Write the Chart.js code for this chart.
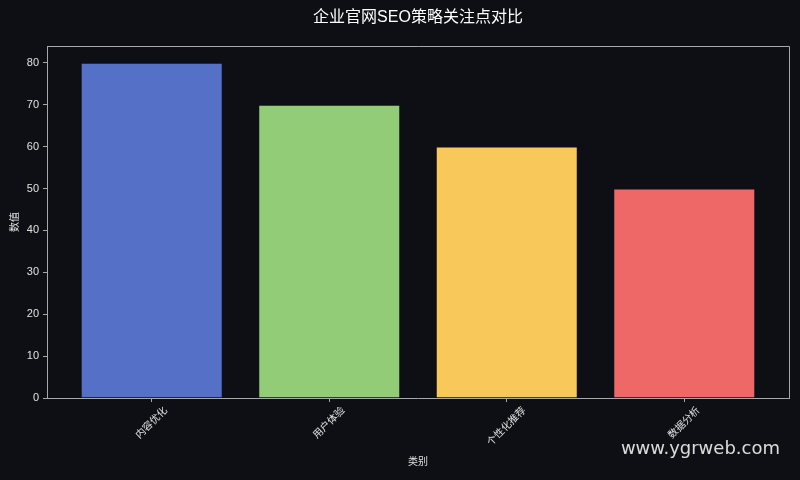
<!DOCTYPE html>
<html>
<head>
<meta charset="utf-8">
<script src="https://cdn.jsdelivr.net/npm/chart.js@4.4.0/dist/chart.umd.min.js"></script>
<style>
  html, body { margin: 0; padding: 0; background: #0d0f15; }
  #wrap { width: 800px; height: 480px; }
</style>
</head>
<body>
<div id="wrap"><canvas id="seoChart" width="800" height="480"></canvas></div>
<script>
var categories = ['内容优化', '用户体验', '个性化推荐', '数据分析'];
var seoValues = [80, 70, 60, 50];
var barColors = ['#5571c7', '#92cc76', '#f9c85a', '#ee6868'];
var yTickValues = [0, 10, 20, 30, 40, 50, 60, 70, 80];

var CJK = '"Liberation Sans", "Noto Sans CJK SC", sans-serif';
var BG = '#0d0f15';
var SPINE = '#a8a8a8';

// background + frame + texts the library does not place the way we need
var decorPlugin = {
    id: 'decor',
    beforeDraw: function (chart) {
        var ctx = chart.ctx;
        ctx.save();
        ctx.fillStyle = BG;
        ctx.fillRect(0, 0, chart.width, chart.height);
        ctx.restore();
    },
    afterDraw: function (chart) {
        var ctx = chart.ctx;
        var a = chart.chartArea;
        var xs = chart.scales.x;
        ctx.save();
        // top and right spines
        ctx.strokeStyle = SPINE;
        ctx.lineWidth = 1;
        ctx.beginPath();
        ctx.moveTo(a.left, a.top + 0.5);
        ctx.lineTo(a.right + 0.5, a.top + 0.5);
        ctx.lineTo(a.right + 0.5, a.bottom);
        ctx.stroke();

        // title
        ctx.fillStyle = '#ffffff';
        ctx.font = '16px ' + CJK;
        ctx.textAlign = 'center';
        ctx.textBaseline = 'middle';
        ctx.fillText('企业官网SEO策略关注点对比', (a.left + a.right) / 2, 18);

        // x tick labels, rotated 45 and centred on the tick
        ctx.fillStyle = '#e0e0e0';
        ctx.font = '10px ' + CJK;
        for (var i = 0; i < categories.length; i++) {
            var px = xs.getPixelForValue(i);
            var w = ctx.measureText(categories[i]).width;
            var bh = (w + 11) * Math.SQRT1_2;
            ctx.save();
            ctx.translate(px, a.bottom + 7 + bh / 2);
            ctx.rotate(-Math.PI / 4);
            ctx.fillText(categories[i], 0, 0);
            ctx.restore();
        }

        // axis titles
        ctx.font = '10px ' + CJK;
        ctx.fillText('类别', (a.left + a.right) / 2, 462);
        ctx.save();
        ctx.translate(15, (a.top + a.bottom) / 2);
        ctx.rotate(-Math.PI / 2);
        ctx.fillText('数值', 0, 0);
        ctx.restore();

        // watermark
        ctx.fillStyle = 'rgba(255,255,255,0.85)';
        ctx.font = '18px "DejaVu Sans", sans-serif';
        ctx.textAlign = 'right';
        ctx.fillText('www.ygrweb.com', 780, 449);
        ctx.restore();
    }
};

window.onload = function () {
    var points = categories.map(function (c, i) {
        return { x: i, y: seoValues[i] };
    });
    var ctx = document.getElementById('seoChart').getContext('2d');
    window.seoChart = new Chart(ctx, {
        type: 'bar',
        data: {
            datasets: [{
                data: points,
                backgroundColor: barColors,
                borderColor: 'rgba(20,25,50,0.45)',
                borderWidth: 1,
                barPercentage: 0.8,
                categoryPercentage: 1.0
            }]
        },
        plugins: [decorPlugin],
        options: {
            responsive: false,
            animation: false,
            devicePixelRatio: 1,
            layout: { padding: { left: 0, top: 46, right: 11, bottom: 0 } },
            plugins: {
                legend: { display: false },
                title: { display: false },
                tooltip: { enabled: false }
            },
            scales: {
                x: {
                    type: 'linear',
                    offset: false,
                    min: -0.59,
                    max: 3.59,
                    afterBuildTicks: function (scale) {
                        scale.ticks = categories.map(function (c, i) { return { value: i }; });
                    },
                    afterFit: function (scale) { scale.height = 82; },
                    grid: { offset: false, drawOnChartArea: false, drawTicks: true, tickLength: 4, color: SPINE },
                    border: { color: SPINE, width: 1 },
                    ticks: { display: false }
                },
                y: {
                    min: 0,
                    max: 84,
                    afterBuildTicks: function (scale) {
                        scale.ticks = yTickValues.map(function (v) { return { value: v }; });
                    },
                    afterFit: function (scale) { scale.width = 47; },
                    grid: { drawOnChartArea: false, drawTicks: true, tickLength: 4, color: SPINE },
                    border: { color: SPINE, width: 1 },
                    ticks: {
                        color: '#e0e0e0',
                        padding: 4,
                        font: { family: '"Liberation Sans", sans-serif', size: 11 }
                    }
                }
            }
        }
    });
};
</script>
</body>
</html>
